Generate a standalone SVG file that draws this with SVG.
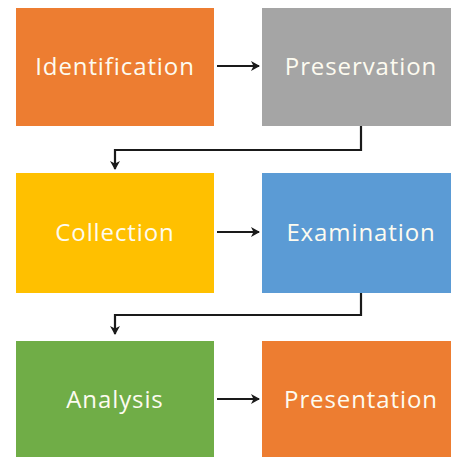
<svg xmlns="http://www.w3.org/2000/svg" width="451" height="457" viewBox="0 0 451 457">
<style>
.lbl{font-family:"Open Sans","Noto Sans","Liberation Sans",sans-serif;font-size:24px;letter-spacing:0.9px;fill:#FDFBF0;text-anchor:middle;dominant-baseline:central}
.c{fill:none;stroke:#1a1a1a;stroke-width:2.2}
</style>
<defs>
<marker id="ah" markerWidth="10" markerHeight="10" refX="8" refY="5" orient="auto" markerUnits="userSpaceOnUse" viewBox="0 0 10 10">
<path d="M0,0 L9,5 L0,10 L2.5,5 Z" fill="#1a1a1a"/>
</marker>
</defs>
<rect width="451" height="457" fill="#ffffff"/>
<g id="identification"><rect x="16" y="8" width="198" height="118" fill="#ED7D31"/><text class="lbl" x="115" y="65">Identification</text></g>
<g id="preservation"><rect x="262" y="8" width="189" height="118" fill="#A5A5A5"/><text class="lbl" x="361" y="65">Preservation</text></g>
<g id="collection"><rect x="16" y="173" width="198" height="120" fill="#FFC000"/><text class="lbl" x="115" y="231">Collection</text></g>
<g id="examination"><rect x="262" y="173" width="189" height="120" fill="#5B9BD5"/><text class="lbl" x="361" y="231">Examination</text></g>
<g id="analysis"><rect x="16" y="341" width="198" height="116" fill="#70AD47"/><text class="lbl" x="115" y="398">Analysis</text></g>
<g id="presentation"><rect x="262" y="341" width="189" height="116" fill="#ED7D31"/><text class="lbl" x="361" y="398">Presentation</text></g>
<g id="connectors">
<path class="c" d="M217,66 H259" marker-end="url(#ah)"/>
<path class="c" d="M361,126 V150 H115 V169" marker-end="url(#ah)"/>
<path class="c" d="M217,232 H259" marker-end="url(#ah)"/>
<path class="c" d="M361,293 V315 H115 V334" marker-end="url(#ah)"/>
<path class="c" d="M217,399 H259" marker-end="url(#ah)"/>
</g>
</svg>
